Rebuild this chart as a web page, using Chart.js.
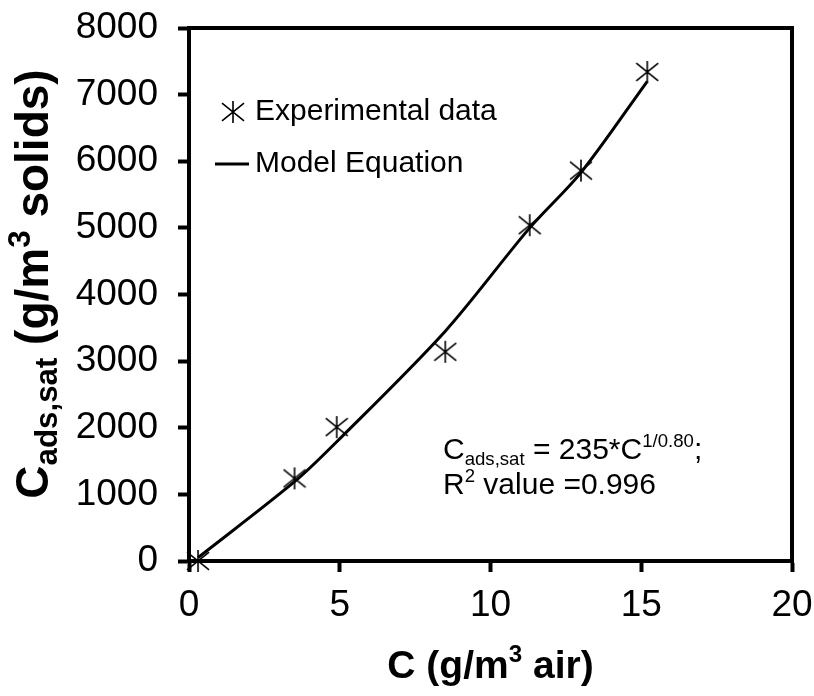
<!DOCTYPE html>
<html>
<head>
<meta charset="utf-8">
<script src="https://cdn.jsdelivr.net/npm/chart.js@4"></script>
<style>
  html, body { margin: 0; padding: 0; background: #ffffff; }
  canvas { display: block; }
</style>
</head>
<body>
<canvas id="chart" width="814" height="696"></canvas>
<script>
// Gas-phase concentration C (g/m3 air) of each run
const concentration = [0.3, 3.5, 4.9, 8.5, 11.3, 13.0, 15.2];
// Measured saturation adsorption (g/m3 solids)
const experimental = [0, 1240, 2010, 3140, 5040, 5860, 7340];
// Fitted model curve at the same concentrations
const model = [50, 1190, 1790, 3450, 5000, 5830, 7200];
// Axis ticks
const xTicks = [0, 5, 10, 15, 20];
const yTicks = [0, 1000, 2000, 3000, 4000, 5000, 6000, 7000, 8000];

const FONT = "'Liberation Sans', Arial, Helvetica, sans-serif";

// Six-ray asterisk marker (vertical bar plus an X)
function makeAsterisk(size, lw) {
  const c = document.createElement('canvas');
  c.width = size; c.height = size;
  const g = c.getContext('2d');
  g.strokeStyle = '#000';
  g.lineWidth = lw;
  const m = size / 2, r = size / 2 - 1;
  g.beginPath();
  g.moveTo(m, m - r); g.lineTo(m, m + r);
  g.moveTo(m - r, m - r * 0.8); g.lineTo(m + r, m + r * 0.8);
  g.moveTo(m - r, m + r * 0.8); g.lineTo(m + r, m - r * 0.8);
  g.stroke();
  return c;
}
const asterisk = makeAsterisk(24, 1.6);

// Draws a run of text pieces, each normal, subscript or superscript
function drawRich(ctx, parts, x, y, size, bold, align, ratio) {
  const weight = bold ? 'bold ' : '';
  const small = size * (ratio || 0.62);
  const fontFor = k => weight + (k ? small : size) + 'px ' + FONT;
  const widths = parts.map(([t, k]) => { ctx.font = fontFor(k); return ctx.measureText(t).width; });
  const total = widths.reduce((a, b) => a + b, 0);
  let cx = align === 'center' ? x - total / 2 : x;
  ctx.textAlign = 'left';
  ctx.textBaseline = 'alphabetic';
  parts.forEach(([t, k], i) => {
    ctx.font = fontFor(k);
    const dy = k === 'sub' ? size * 0.2 : (k === 'sup' ? -size * 0.4 : 0);
    ctx.fillText(t, cx, y + dy);
    cx += widths[i];
  });
}

const decorations = {
  id: 'decorations',
  beforeDatasetsDraw(chart) {
    const { ctx, chartArea: a } = chart;
    ctx.save();
    ctx.strokeStyle = '#000';
    ctx.lineWidth = 4;
    ctx.strokeRect(a.left, a.top, a.right - a.left, a.bottom - a.top);
    ctx.restore();
  },
  afterDraw(chart) {
    const { ctx, chartArea: a } = chart;
    ctx.save();
    ctx.fillStyle = '#000';

    // Legend
    ctx.drawImage(asterisk, 233 - 12, 112 - 12);
    ctx.font = '30px ' + FONT;
    ctx.textBaseline = 'middle';
    ctx.textAlign = 'left';
    ctx.fillText('Experimental data', 255, 112);
    ctx.strokeStyle = '#000';
    ctx.lineWidth = 3;
    ctx.beginPath();
    ctx.moveTo(215, 164); ctx.lineTo(249, 164);
    ctx.stroke();
    ctx.fillText('Model Equation', 255, 164);

    // Fit equation
    drawRich(ctx, [['C', ''], ['ads,sat', 'sub'], [' = 235*C', ''], ['1/0.80', 'sup'], [';', '']], 443, 459, 30, false, 'left');
    drawRich(ctx, [['R', ''], ['2', 'sup'], [' value =0.996', '']], 443, 494, 30, false, 'left');

    // Axis titles
    const cxMid = (a.left + a.right) / 2;
    drawRich(ctx, [['C (g/m', ''], ['3', 'sup'], [' air)', '']], cxMid, 678, 39, true, 'center');
    ctx.translate(48, 284);
    ctx.rotate(-Math.PI / 2);
    drawRich(ctx, [['C', ''], ['ads,sat', 'sub'], [' (g/m', ''], ['3', 'sup'], [' solids)', '']], 0, 0, 46, true, 'center', 0.68);
    ctx.restore();
  }
};

const axisCommon = {
  type: 'linear',
  grid: { drawOnChartArea: false, drawTicks: true, tickLength: 11, tickWidth: 4, tickColor: '#000' },
  border: { display: true, color: '#000', width: 4 },
  ticks: { color: '#000', font: { family: FONT, size: 37 }, callback: v => String(v) }
};

new Chart(document.getElementById('chart').getContext('2d'), {
  type: 'scatter',
  data: {
    datasets: [
      {
        label: 'Model Equation',
        type: 'line',
        data: concentration.map((x, i) => ({ x, y: model[i] })),
        borderColor: '#000',
        borderWidth: 3,
        pointRadius: 0,
        tension: 0.3,
        fill: false
      },
      {
        label: 'Experimental data',
        data: concentration.map((x, i) => ({ x, y: experimental[i] })),
        pointStyle: asterisk,
        pointRadius: 12,
        showLine: false,
        clip: false
      }
    ]
  },
  options: {
    responsive: false,
    animation: false,
    devicePixelRatio: 1,
    layout: { padding: { top: 28, right: 22, left: 0, bottom: 0 } },
    plugins: { legend: { display: false }, tooltip: { enabled: false } },
    scales: {
      x: {
        ...axisCommon,
        min: 0, max: 20,
        afterBuildTicks: s => { s.ticks = xTicks.map(v => ({ value: v })); },
        afterFit: s => { s.height = 135; s.paddingLeft = 0; s.paddingRight = 0; },
        ticks: { ...axisCommon.ticks, padding: 12, maxRotation: 0 }
      },
      y: {
        ...axisCommon,
        min: 0, max: 8000,
        afterBuildTicks: s => { s.ticks = yTicks.map(v => ({ value: v })); },
        afterFit: s => { s.width = 189; s.paddingTop = 0; s.paddingBottom = 0; },
        ticks: { ...axisCommon.ticks, padding: 20 }
      }
    }
  },
  plugins: [decorations]
});
</script>
</body>
</html>
